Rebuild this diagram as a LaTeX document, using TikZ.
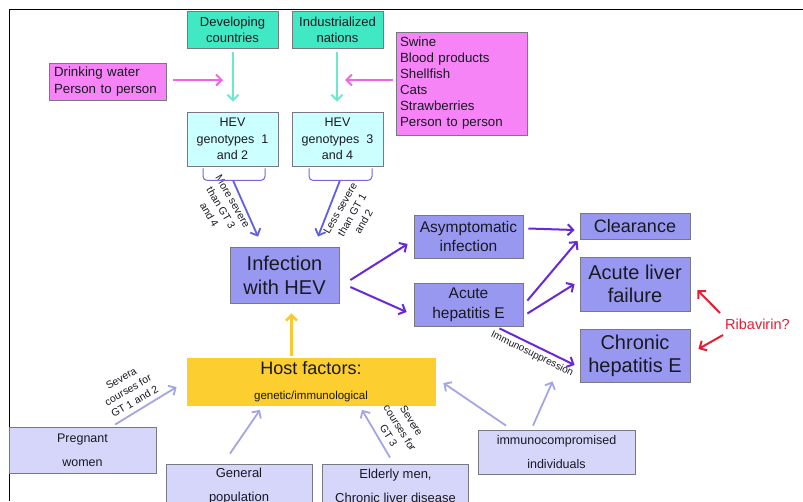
\documentclass[tikz,border=0pt]{standalone}
\usepackage{fontspec}
\setmainfont{Liberation Sans}
\usetikzlibrary{arrows.meta,calc}
\definecolor{tealfill}{RGB}{64,232,196}
\definecolor{cyanfill}{RGB}{204,255,255}
\definecolor{magfill}{RGB}{246,132,246}
\definecolor{perifill}{RGB}{152,152,240}
\definecolor{goldfill}{RGB}{252,206,48}
\definecolor{lavfill}{RGB}{214,214,250}
\definecolor{boxline}{RGB}{120,120,130}
\definecolor{txt}{RGB}{25,25,35}
\definecolor{purparr}{RGB}{105,40,215}
\definecolor{tealarr}{RGB}{110,232,205}
\definecolor{magarr}{RGB}{240,100,230}
\definecolor{lilarr}{RGB}{165,165,228}
\definecolor{bluearr}{RGB}{95,95,225}
\definecolor{brkline}{RGB}{120,100,220}
\definecolor{redarr}{RGB}{228,30,50}
\definecolor{yelarr}{RGB}{250,200,50}
\begin{document}
\begin{tikzpicture}[x=1pt,y=-1pt,
  box/.style={draw=boxline,line width=0.8pt,inner sep=0pt,align=center,text=txt},
  tealbox/.style={box,fill=tealfill,minimum width=91pt,minimum height=37pt,font=\fontsize{13}{16}\selectfont},
  hevbox/.style={box,fill=cyanfill,minimum width=91pt,minimum height=54pt,font=\fontsize{12.5}{16.5}\selectfont},
  magbox/.style={box,fill=magfill,align=left},
  peri/.style={box,fill=perifill},
  lav/.style={box,fill=lavfill,font=\fontsize{12.5}{24}\selectfont},
  lab/.style={text=txt,align=center,font=\fontsize{10.5}{13.5}\selectfont,inner sep=0pt},
  arr/.style={line width=2pt,-{Straight Barb[length=5.5pt,width=11pt]}},
  parr/.style={arr,draw=purparr},
  tarr/.style={arr,draw=tealarr},
  marr/.style={arr,draw=magarr},
  larr/.style={arr,line width=1.8pt,draw=lilarr},
  barr/.style={arr,line width=1.8pt,draw=bluearr},
  rarr/.style={arr,draw=redarr},
  yarr/.style={arr,line width=2.5pt,draw=yelarr},
  brk/.style={draw=brkline,line width=1pt,rounded corners=4pt}]
\useasboundingbox (0,0) rectangle (803,501);
\clip (0,0) rectangle (803,501);
\fill[white] (0,0) rectangle (803,501);
\draw[black,line width=1pt] (803,9) -- (9,9) -- (9,501);

% top
\node[tealbox] (dev) at (232.5,29.5) {Developing\\countries};
\node[tealbox] (ind) at (337.5,29.5) {Industrialized\\nations};
\node[magbox,text width=107pt,inner xsep=5pt,minimum height=37pt,font=\fontsize{13.3}{17}\selectfont] (drink) at (107.5,81.5) {Drinking water\\Person to person};
\node[magbox,text width=123pt,inner xsep=4pt,minimum height=103pt,font=\fontsize{13.3}{16}\selectfont] (swine) at (461.5,83.5) {Swine\\Blood products\\Shellfish\\Cats\\Strawberries\\Person to person};
\node[hevbox] (hev12) at (232.5,139) {HEV\\genotypes~~1\\and 2};
\node[hevbox] (hev34) at (337.5,139) {HEV\\genotypes~~3\\and 4};

% middle
\node[peri,minimum width=109pt,minimum height=56pt,font=\fontsize{20}{24}\selectfont] (inf) at (284.5,275) {Infection\\with HEV};
\node[peri,minimum width=109pt,minimum height=43pt,font=\fontsize{15.5}{19}\selectfont] (asym) at (468.5,236.5) {Asymptomatic\\infection};
\node[peri,minimum width=109pt,minimum height=43pt,font=\fontsize{15.5}{20}\selectfont] (acute) at (468.5,304.5) {Acute\\hepatitis E};
\node[peri,minimum width=110pt,minimum height=26pt,font=\fontsize{18}{22}\selectfont] (clear) at (635,226) {Clearance};
\node[peri,minimum width=110pt,minimum height=54pt,font=\fontsize{20}{23}\selectfont] (alf) at (635,284) {Acute liver\\failure};
\node[peri,minimum width=110pt,minimum height=53pt,font=\fontsize{20}{23}\selectfont] (chr) at (635,355.5) {Chronic\\hepatitis E};
\node[text=redarr,font=\fontsize{14.5}{17}\selectfont,inner sep=0pt,anchor=west] (riba) at (725,324) {Ribavirin?};

% host
\node[box,draw=goldfill,fill=goldfill,minimum width=248pt,minimum height=47pt,font=\fontsize{11.5}{25}\selectfont] (host) at (311,382) {{\fontsize{18}{25}\selectfont Host factors:}\\genetic/immunological};

% bottom
\node[lav,minimum width=147pt,minimum height=46pt] (preg) at (82.5,450) {Pregnant\\women};
\node[lav,minimum width=146pt,minimum height=44pt,font=\fontsize{13}{24}\selectfont] (gen) at (239,486) {General\\population};
\node[lav,minimum width=146pt,minimum height=44pt,font=\fontsize{13}{24}\selectfont] (eld) at (395.5,486) {Elderly men,\\Chronic liver disease};
\node[lav,minimum width=157pt,minimum height=44pt] (imm) at (556.5,452) {immunocompromised\\individuals};

% rotated labels
\node[lab,rotate=-60] (l1) at (221,208) {More severe\\than GT 3\\and 4};
\node[lab,rotate=60] (l2) at (352,215) {Less severe\\than GT 1\\and 2};
\node[lab,rotate=30] (l3) at (128,390) {Severa\\courses for\\GT 1 and 2};
\node[lab,rotate=-58] (l4) at (400,428) {Severe\\courses for\\GT 3};
\node[lab,rotate=-26,font=\fontsize{10}{12}\selectfont] (l5) at (532,354) {Immunosuppression};

% top arrows
\coordinate (m1) at (223,80);
\coordinate (m2) at (345,80);
\draw[tarr] ($(dev.south)+(0.5,4)$) -- ($(hev12.north)+(0.5,-10)$);
\draw[tarr] ($(ind.south)+(-0.5,4)$) -- ($(hev34.north)+(-0.5,-10)$);
\draw[marr] ($(drink.east)+(7,-1.5)$) -- (m1);
\draw[marr] ($(swine.west)+(-3,-3.5)$) -- (m2);

% brackets
\draw[brk] ($(hev12.south)+(-29.5,2)$) |- ($(hev12.south)+(32.5,14)$) -- ($(hev12.south)+(32.5,2)$);
\draw[brk] ($(hev34.south)+(-28.5,2)$) |- ($(hev34.south)+(34.5,14)$) -- ($(hev34.south)+(34.5,2)$);
\coordinate (b1) at ($(hev12.south)+(0.5,14)$);
\coordinate (b2) at ($(hev34.south)+(2.5,14)$);
\draw[barr] (b1) -- ($(inf.north)+(-26.5,-10)$);
\draw[barr] (b2) -- ($(inf.north)+(33.5,-10)$);

% purple arrows
\draw[parr] ($(inf.east)+(11,5)$) -- ($(asym.west)+(-6,7.5)$);
\draw[parr] ($(inf.east)+(11,12)$) -- ($(acute.west)+(-7,7.5)$);
\draw[parr] ($(asym.east)+(5,-8)$) -- ($(clear.west)+(-5,4)$);
\draw[parr] ($(acute.east)+(4,-4)$) -- ($(clear.west)+(-2,15)$);
\draw[parr] ($(acute.east)+(4,9)$) -- ($(alf.west)+(-5,0)$);
\draw[parr] ($(acute.south)+(31,2)$) -- ($(chr.west)+(-5,9.5)$);

% red arrows
\draw[rarr] ($(riba.west)+(-5,-11)$) -- ($(alf.east)+(7,6)$);
\draw[rarr] ($(riba.west)+(-2,11)$) -- ($(chr.east)+(8,-6.5)$);

% yellow arrow
\draw[yarr] ($(host.north)+(-19.5,-2)$) -- ($(inf.south)+(7,10)$);

% host factor arrows
\draw[larr] ($(preg.north)+(32.5,-2)$) -- ($(host.west)+(-10,5)$);
\draw[larr] ($(gen.north)+(-9,-10)$) -- ($(host.south)+(-51,4)$);
\draw[larr] ($(eld.north)+(-5.5,-6)$) -- ($(host.south)+(51,4)$);
\draw[larr] ($(imm.north)+(-50.5,-4)$) -- ($(host.east)+(8,1)$);
\draw[larr] ($(imm.north)+(-23.5,-4)$) -- ($(chr.south west)+(-27,-1)$);
\end{tikzpicture}
\end{document}
